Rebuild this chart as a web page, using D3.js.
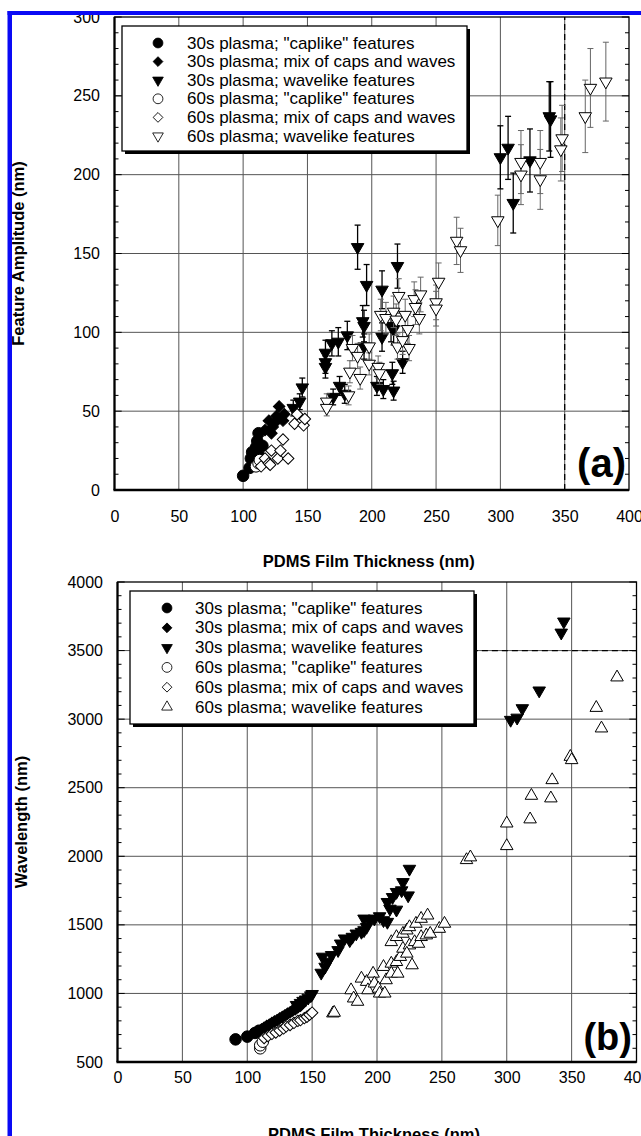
<!DOCTYPE html>
<html>
<head>
<meta charset="utf-8">
<script src="https://cdn.jsdelivr.net/npm/d3@7"></script>
<style>
  html, body { margin: 0; padding: 0; background: #fff; }
  svg { display: block; font-family: "Liberation Sans", Arial, sans-serif; }
</style>
</head>
<body>
<svg id="chart" width="641" height="1136"></svg>
<script>
// === Data ===
const seriesNames = [
  '30s plasma; "caplike" features',
  '30s plasma; mix of caps and waves',
  '30s plasma; wavelike features',
  '60s plasma; "caplike" features',
  '60s plasma; mix of caps and waves',
  '60s plasma; wavelike features'
];
const thicknessTicks = [0, 50, 100, 150, 200, 250, 300, 350, 400];
const amplitudeTicks = [0, 50, 100, 150, 200, 250, 300];
const wavelengthTicks = [500, 1000, 1500, 2000, 2500, 3000, 3500, 4000];

// panel (a): [thickness, amplitude] or [thickness, amplitude, error]
const ampCap30 = [[100,9],[105,14],[106,20],[107,24],[110,27],[111,31],[112,36],[113,21],[108,18],[115,28]];
const ampMix30 = [[117,38],[120,44],[122,36],[123,40],[125,43],[126,47],[128,53],[131,44],[132,48]];
const ampWave30 = [
  [139,52,5],[144,56,5],[146,65,6],[164,87,8],[164,81,7],[164,78,7],[169,93,8],[174,94,9],[181,98,9],
  [170,59,5],[175,66,6],[179,61,6],[189,154,14],[196,130,13],[193,107,10],[194,104,10],[194,91,8],
  [208,127,12],[220,142,14],[208,97,9],[215,104,10],[217,102,10],[204,66,6],[209,64,6],[217,63,6],
  [216,74,7],[224,81,7],[300,211,20],[306,217,20],[310,182,19],[323,209,20],[338,237,22],[339,235,24]
];
const ampCap60 = [[110,15],[112,17],[113,19]];
const ampMix60 = [[114,15],[117,20],[120,17],[121,16],[122,25],[127,20],[129,25],[131,32],[135,20],[140,42],[142,48],[147,41],[148,45]];
const ampWave60 = [
  [165,56,5],[165,52,5],[182,60,6],[183,75,7],[185,90,8],[189,85,8],[191,71,7],[198,91,8],[198,80,7],
  [205,78,7],[206,74,7],[207,111,10],[211,109,10],[217,113,10],[219,108,10],[221,123,11],[226,111,10],
  [228,102,9],[229,90,8],[233,121,11],[234,116,11],[238,124,11],[237,109,10],[220,91,8],[224,95,9],
  [252,132,12],[250,119,11],[250,115,11],[266,158,15],[269,152,14],[298,171,16],[316,200,19],[316,208,20],
  [331,208,20],[331,197,19],[348,223,21],[347,216,20],[366,237,23],[370,255,25],[382,259,25]
];

// panel (b): [thickness, wavelength]
const wlCap30 = [[91,665],[100,685],[106,712],[109,728]];
const wlMix30 = [[108,725],[111,738],[113,750],[115,762],[117,772],[119,785],[121,795],[123,805],[125,818],[127,828],[129,840],[131,852],[133,862],[135,875],[137,885],[139,898],[141,910]];
const wlWave30 = [
  [138,915],[141,930],[143,945],[145,955],[147,968],[149,985],[150,995],[157,1150],[160,1194],[162,1230],
  [158,1267],[165,1279],[170,1315],[172,1363],[175,1400],[179,1387],[181,1412],[184,1436],[188,1448],
  [190,1460],[192,1484],[190,1545],[194,1533],[198,1545],[202,1562],[205,1533],[208,1521],[210,1617],
  [208,1666],[212,1702],[215,1739],[219,1751],[215,1610],[224,1714],[220,1811],[225,1908],
  [303,2994],[308,3010],[312,3079],[325,3208],[342,3630],[344,3711]
];
const wlCap60 = [[110,600],[110,622],[112,648]];
const wlMix60 = [[113,675],[116,690],[119,705],[122,715],[125,730],[128,745],[130,760],[133,770],[136,785],[139,800],[141,805],[144,820],[146,830],[148,845],[150,860]];
const wlWave60 = [
  [166,855],[167,860],[180,1024],[182,964],[185,940],[188,1109],[192,1085],[193,1024],[197,1145],[198,1073],
  [201,1036],[202,1000],[206,1000],[205,1194],[211,1218],[207,1097],[211,1145],[215,1230],[218,1267],
  [216,1145],[211,1375],[215,1412],[220,1436],[223,1460],[225,1484],[230,1509],[234,1545],[239,1569],
  [220,1327],[225,1351],[229,1375],[232,1363],[234,1412],[238,1424],[241,1436],[248,1472],[252,1509],
  [227,1206],[223,1291],[269,1973],[272,1993],[300,2075],[300,2240],[318,2270],[319,2442],[334,2423],
  [335,2556],[349,2726],[350,2702],[369,3083],[373,2933],[385,3305]
];

const svg = d3.select('#chart');
const FS = 16;

// === marker shapes ===
function markerPath(kind) {
  if (kind === 'circle') return d3.symbol(d3.symbolCircle, 105)();
  if (kind === 'diamond') return d3.symbol(d3.symbolSquare, 66)();
  return d3.symbol(d3.symbolTriangle, 68)();
}
function markerRotate(kind) {
  if (kind === 'diamond') return 45;
  if (kind === 'tri-down') return 180;
  return 0;
}

/* ------------------------------------------------
   draw one panel
------------------------------------------------ */
function drawPanel(p) {
  const x = d3.scaleLinear().domain([0, 400]).range([p.left, p.right]);
  const y = d3.scaleLinear().domain(p.yDomain).range([p.bottom, p.top]);
  const g = svg.append('g');

  // grid
  g.selectAll('.vg').data(thicknessTicks.slice(1, -1)).join('line')
    .attr('x1', d => x(d)).attr('x2', d => x(d))
    .attr('y1', p.top).attr('y2', p.bottom)
    .attr('stroke', '#555').attr('stroke-width', 1);
  g.selectAll('.hg').data(p.yTicks.slice(1, -1)).join('line')
    .attr('x1', p.left).attr('x2', p.right)
    .attr('y1', d => y(d)).attr('y2', d => y(d))
    .attr('stroke', '#555').attr('stroke-width', 1);

  // minor ticks left + right
  const minors = d3.range(p.yDomain[0], p.yDomain[1], p.minor).filter(v => !p.yTicks.includes(v));
  [[p.left, 4], [p.right, -4]].forEach(([x0, len]) => {
    g.selectAll(null).data(minors).join('line')
      .attr('x1', x0).attr('x2', x0 + len)
      .attr('y1', d => y(d)).attr('y2', d => y(d))
      .attr('stroke', '#000').attr('stroke-width', 1);
    g.selectAll(null).data(p.yTicks).join('line')
      .attr('x1', x0).attr('x2', x0 + len * 1.8)
      .attr('y1', d => y(d)).attr('y2', d => y(d))
      .attr('stroke', '#000').attr('stroke-width', 1);
  });

  // dashed reference line
  const r = p.dashed;
  g.append('line')
    .attr('x1', x(r.x1)).attr('x2', x(r.x2))
    .attr('y1', y(r.y1)).attr('y2', y(r.y2))
    .attr('stroke', '#000').attr('stroke-width', 1.3)
    .attr('stroke-dasharray', '6,4');

  // series
  p.series.forEach(s => {
    const pts = s.data;
    if (pts.length && pts[0].length > 2) {
      const eb = g.append('g').attr('stroke', s.filled ? '#000' : '#666')
        .attr('stroke-width', s.filled ? 1.3 : 1);
      pts.forEach(d => {
        const xx = x(d[0]), y0 = y(d[1] - d[2]), y1 = y(d[1] + d[2]);
        eb.append('line').attr('x1', xx).attr('x2', xx).attr('y1', y0).attr('y2', y1);
        eb.append('line').attr('x1', xx - 3).attr('x2', xx + 3).attr('y1', y0).attr('y2', y0);
        eb.append('line').attr('x1', xx - 3).attr('x2', xx + 3).attr('y1', y1).attr('y2', y1);
      });
    }
    g.append('g').selectAll('path').data(pts).join('path')
      .attr('d', markerPath(s.kind))
      .attr('transform', d => `translate(${x(d[0])},${y(d[1])}) rotate(${markerRotate(s.kind)})`)
      .attr('fill', s.filled ? '#000' : '#fff')
      .attr('stroke', '#000').attr('stroke-width', 1);
  });

  // frame
  g.append('rect')
    .attr('x', p.left).attr('y', p.top)
    .attr('width', p.right - p.left).attr('height', p.bottom - p.top)
    .attr('fill', 'none').attr('stroke', '#000').attr('stroke-width', 1.3);
  g.append('line').attr('x1', p.left).attr('x2', p.left).attr('y1', p.top).attr('y2', p.bottom)
    .attr('stroke', '#000').attr('stroke-width', 2.2);
  g.append('line').attr('x1', p.left - 1).attr('x2', p.right).attr('y1', p.bottom).attr('y2', p.bottom)
    .attr('stroke', '#000').attr('stroke-width', 2.5);

  // axes (labels only)
  const ax = g.append('g').attr('transform', `translate(0,${p.bottom})`)
    .call(d3.axisBottom(x).tickValues(thicknessTicks).tickFormat(d3.format('d')).tickSize(0).tickPadding(p.xPad));
  const ay = g.append('g').attr('transform', `translate(${p.left},0)`)
    .call(d3.axisLeft(y).tickValues(p.yTicks).tickFormat(d3.format('d')).tickSize(0).tickPadding(14.5));
  [ax, ay].forEach(a => {
    a.select('.domain').remove();
    a.selectAll('text').attr('font-size', FS).attr('fill', '#000')
      .attr('font-family', '"Liberation Sans", Arial, sans-serif');
  });

  // axis titles
  g.append('text').attr('x', (p.left + p.right) / 2 - 3).attr('y', p.xTitleY)
    .attr('text-anchor', 'middle').attr('font-size', 16.5).attr('font-weight', 'bold')
    .text('PDMS Film Thickness (nm)');
  g.append('text')
    .attr('transform', `translate(${p.yTitleX},${(p.top + p.bottom) / 2}) rotate(-90)`)
    .attr('text-anchor', 'middle').attr('font-size', 16.5).attr('font-weight', 'bold')
    .text(p.yTitle);

  // panel tag
  g.append('text').attr('x', p.tag.x).attr('y', p.tag.y)
    .attr('text-anchor', 'end').attr('font-size', p.tag.size).attr('font-weight', 'bold')
    .text(p.tag.text);

  // legend with drop shadow
  const L = p.legend;
  const lg = g.append('g');
  lg.append('rect').attr('x', L.x + 3).attr('y', L.y + 3).attr('width', L.w).attr('height', L.h).attr('fill', '#000');
  lg.append('rect').attr('x', L.x).attr('y', L.y).attr('width', L.w).attr('height', L.h)
    .attr('fill', '#fff').attr('stroke', '#000').attr('stroke-width', 1.3);
  p.series.forEach((s, i) => {
    const cy = L.y + L.first + i * L.step;
    lg.append('path').attr('d', markerPath(s.kind))
      .attr('transform', `translate(${L.symX},${cy}) rotate(${markerRotate(s.kind)}) scale(0.85)`)
      .attr('fill', s.filled ? '#000' : '#fff').attr('stroke', '#000').attr('stroke-width', 1);
    lg.append('text').attr('x', L.textX).attr('y', cy + 5.5)
      .attr('font-size', 17).text(seriesNames[i]);
  });
}

// === panel (a) ===
drawPanel({
  left: 114.5, right: 629, top: 17, bottom: 490,
  yDomain: [0, 300], yTicks: amplitudeTicks, minor: 10,
  xPad: 21, xTitleY: 567, yTitleX: 24, yTitle: 'Feature Amplitude (nm)',
  dashed: { x1: 350, x2: 350, y1: 0, y2: 300 },
  tag: { text: '(a)', x: 626, y: 477, size: 40 },
  legend: { x: 122, y: 26, w: 345, h: 125, first: 17, step: 18.6, symX: 158, textX: 187 },
  series: [
    { data: ampCap30, kind: 'circle', filled: true },
    { data: ampMix30, kind: 'diamond', filled: true },
    { data: ampWave30, kind: 'tri-down', filled: true },
    { data: ampCap60, kind: 'circle', filled: false },
    { data: ampMix60, kind: 'diamond', filled: false },
    { data: ampWave60, kind: 'tri-down', filled: false }
  ]
});

// === panel (b) ===
drawPanel({
  left: 117.5, right: 636.5, top: 582, bottom: 1062,
  yDomain: [500, 4000], yTicks: wavelengthTicks, minor: 100,
  xPad: 10, xTitleY: 1140, yTitleX: 27, yTitle: 'Wavelength (nm)',
  dashed: { x1: 250, x2: 400, y1: 3500, y2: 3500 },
  tag: { text: '(b)', x: 632, y: 1050, size: 38 },
  legend: { x: 130, y: 591, w: 344, h: 133, first: 17, step: 19.8, symX: 167, textX: 195 },
  series: [
    { data: wlCap30, kind: 'circle', filled: true },
    { data: wlMix30, kind: 'diamond', filled: true },
    { data: wlWave30, kind: 'tri-down', filled: true },
    { data: wlCap60, kind: 'circle', filled: false },
    { data: wlMix60, kind: 'diamond', filled: false },
    { data: wlWave60, kind: 'tri-up', filled: false }
  ]
});

// blue page border
svg.append('rect').attr('x', 7.5).attr('y', 11).attr('width', 641).attr('height', 4).attr('fill', '#0a0af5');
svg.append('rect').attr('x', 7.5).attr('y', 11).attr('width', 4.5).attr('height', 1136).attr('fill', '#0a0af5');
</script>
</body>
</html>
